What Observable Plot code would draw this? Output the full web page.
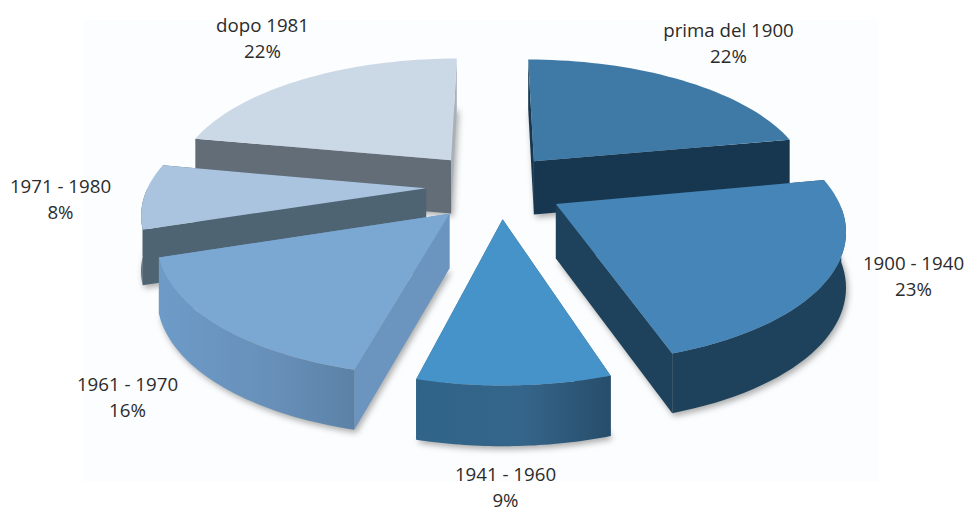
<!DOCTYPE html>
<html><head><meta charset="utf-8">
<script src="https://cdn.jsdelivr.net/npm/d3@7"></script>
<script src="https://cdn.jsdelivr.net/npm/@observablehq/plot@0.6"></script>
<style>html,body{margin:0;padding:0;background:#fff}svg{display:block}</style>
</head><body><div id="chart"></div>
<script>
// data
const periods = ["prima del 1900","1900 - 1940","1941 - 1960","1961 - 1970","1971 - 1980","dopo 1981"];
const shares = [22,23,9,16,8,22];
// styles
const topColors = ["#3f7aa6","#4585b8","#4593c8","#7ba8d3","#aac3de","#cbd8e6"];
const startWallColors = ["#17364f","#1f425c","#2f5f82","#6b94bf","#4f6472","#626d78"];
const endWallColors = ["#17364f","#1f425c","#2f5f82","#6b94bf","#4f6472","#a8b0b8"];
const rimFills = ["#17364f","#1f425c","url(#rim2)","url(#rim3)","#4f6472","#a8b0b8"];
// layout
const W=967,H=510, cx=490, cy=186, rx=278, ry=126, persp=0.17, depth=54, explode=0.235;
const nudges=[[3,-3],[8,2],[10,2],[5,5],[1,0],[1,-4]];
const labelAnchors=[[728,41],[913,274],[505,485],[127,395],[60,197],[262,36]];

const project=(X,Y,Z,nudge)=>{const w=1/(1-persp*Y);return [cx+rx*X*w+nudge[0], cy+ry*Y*w+Z*depth*Math.sqrt(w)+nudge[1]];};
const arcs=d3.pie().sort(null).value(d=>d)(shares);
const faces=[], shadows=[];
arcs.forEach((a,i)=>{
  const mid=(a.startAngle+a.endAngle)/2, ex=explode*Math.sin(mid), ey=-explode*Math.cos(mid);
  const pt=t=>[ex+Math.sin(t),ey-Math.cos(t)];
  const n=40, angles=d3.range(n+1).map(k=>a.startAngle+(a.endAngle-a.startAngle)*k/n);
  const arc=angles.map(pt);
  const frontArc=angles.filter(t=>t>=Math.PI/2&&t<=3*Math.PI/2).map(pt);
  const poly=(pts,Z)=>pts.map(([X,Y])=>project(X,Y,Z,nudges[i]));
  const apex=[ex,ey];
  const topP=poly([apex,...arc],0);
  const w1=[...poly([apex,arc[0]],0),...poly([arc[0],apex],1)];
  const w2=[...poly([apex,arc[n]],0),...poly([arc[n],apex],1)];
  const base=poly([apex,...arc],1);
  shadows.push({slice:i,pts:base.map(([x,y])=>[x+2,y+3])});
  faces.push({slice:i,fill:startWallColors[i],pts:w1});
  faces.push({slice:i,fill:endWallColors[i],pts:w2});
  if(frontArc.length>1) faces.push({slice:i,fill:rimFills[i],pts:[...poly(frontArc,0),...poly(frontArc,1).reverse()]});
  faces.push({slice:i,fill:topColors[i],pts:topP});
});
const drawOrder=[5,0,4,1,3,2];
const gradient=(id,stops)=>`<linearGradient id="${id}" x1="0" x2="1" y1="0" y2="0">${stops.map(([o,c])=>`<stop offset="${o}" stop-color="${c}"/>`).join("")}</linearGradient>`;
const defs=()=>{
  const g=document.createElementNS("http://www.w3.org/2000/svg","g");
  g.innerHTML=`<defs>${gradient("rim2",[[0,"#2f6488"],[.55,"#35658a"],[1,"#274d6a"]])}${gradient("rim3",[[0,"#6d9bc8"],[.6,"#678fb8"],[1,"#5b82a6"]])}</defs>`;
  return g;
};
const poly=(o,opts)=>Plot.line(o.pts,{x:d=>d[0],y:d=>d[1],fill:o.fill,stroke:null,...opts});
const marks=[defs,
  Plot.rect([0],{x1:83,x2:878,y1:20,y2:482,fill:"#fcfdfe"})
];
for(const i of drawOrder){
  const s=shadows[i];
  marks.push(Plot.line(s.pts,{x:d=>d[0],y:d=>d[1],fill:"#555",fillOpacity:.5,stroke:null,imageFilter:"blur(3px)"}));
  for(const f of faces.filter(f=>f.slice===i)) marks.push(poly(f,{imageFilter:"blur(0.5px)"}));
}
const labels=periods.map((p,i)=>({t:p+"\n"+shares[i]+"%",x:labelAnchors[i][0],y:labelAnchors[i][1]}));
marks.push(Plot.text(labels,{x:"x",y:"y",text:"t",lineHeight:1.42,fontSize:18.7,fill:"#2b2b2b",fontFamily:"'Open Sans',sans-serif"}));
const chart=Plot.plot({width:W,height:H,margin:0,
  x:{domain:[0,W],range:[0,W],axis:null},
  y:{domain:[0,H],range:[0,H],axis:null},
  marks});
document.getElementById("chart").append(chart);
</script></body></html>
